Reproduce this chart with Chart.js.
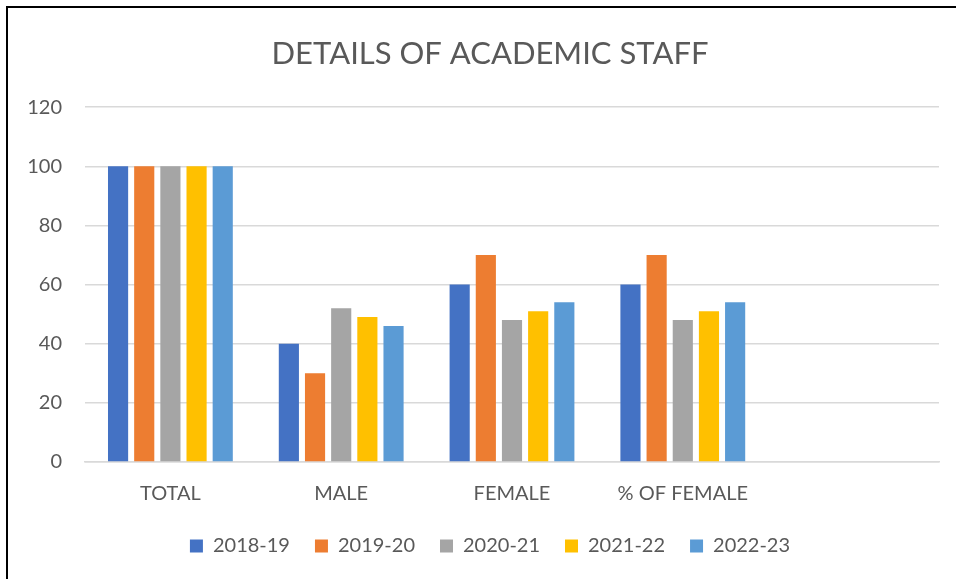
<!DOCTYPE html>
<html>
<head>
<meta charset="utf-8">
<script src="https://cdn.jsdelivr.net/npm/chart.js@4.4.0/dist/chart.umd.min.js"></script>
<style>
  html, body { margin: 0; padding: 0; background: #fff; overflow: hidden; }
  #frame { position: absolute; left: 6px; top: 6px; width: 1000px; height: 600px;
           border-top: 2px solid #000; border-left: 2px solid #000; }
  #wrap { position: absolute; left: 0; top: 0; width: 980px; height: 579px; }
</style>
</head>
<body>
<div id="frame"></div>
<div id="wrap"><canvas id="mycanvas" width="980" height="579"></canvas></div>
<script>
// chart data
var categories = ["TOTAL", "MALE", "FEMALE", "% OF FEMALE", ""];
var y2018_19 = [100, 40, 60, 60, null];
var y2019_20 = [100, 30, 70, 70, null];
var y2020_21 = [100, 52, 48, 48, null];
var y2021_22 = [100, 49, 51, 51, null];
var y2022_23 = [100, 46, 54, 54, null];
var yTicks = [0, 20, 40, 60, 80, 100, 120];

var textColor = "#595959";
var gridColor = "#d9d9d9";
var fontFamily = "Lato, 'Noto Sans', sans-serif";

function bar(label, color, data) {
    return {
        label: label,
        backgroundColor: color,
        borderColor: color,
        borderWidth: 0,
        categoryPercentage: 0.766,
        barPercentage: 0.77,
        data: data
    };
}

var chartdata = {
    labels: categories,
    datasets: [
        bar("2018-19", "#4472C4", y2018_19),
        bar("2019-20", "#ED7D31", y2019_20),
        bar("2020-21", "#A5A5A5", y2020_21),
        bar("2021-22", "#FFC000", y2021_22),
        bar("2022-23", "#5B9BD5", y2022_23)
    ]
};

var ctx = document.getElementById("mycanvas");

var GenericGraph = new Chart(ctx, {
    type: 'bar',
    data: chartdata,
    options: {
        responsive: false,
        animation: false,
        devicePixelRatio: 1,
        layout: { padding: { top: 0, right: 0, bottom: 13, left: 0 } },
        plugins: {
            title: {
                display: true,
                text: "DETAILS OF ACADEMIC STAFF",
                color: textColor,
                font: { family: fontFamily, size: 31, weight: 'normal' },
                padding: { top: 35, bottom: 35 }
            },
            legend: {
                position: 'bottom',
                labels: {
                    color: textColor,
                    font: { family: fontFamily, size: 20 },
                    boxWidth: 13,
                    boxHeight: 13,
                    padding: 25
                }
            },
            tooltip: { enabled: false }
        },
        scales: {
            x: {
                grid: { display: false },
                border: { display: true, color: gridColor, width: 1.5 },
                ticks: {
                    color: textColor,
                    font: { family: fontFamily, size: 20 },
                    padding: 12,
                    maxRotation: 0
                },
                // tighten the gap between the category labels and the legend
                afterFit: function (s) { s.height -= 7; }
            },
            y: {
                min: 0,
                max: 120,
                afterBuildTicks: function (s) {
                    s.ticks = yTicks.map(function (v) { return { value: v }; });
                },
                afterFit: function (s) { s.width = 85; },
                grid: { color: gridColor, lineWidth: 1.5, drawTicks: false, tickLength: 0 },
                border: { display: false },
                ticks: {
                    color: textColor,
                    font: { family: fontFamily, size: 20 },
                    padding: 23
                }
            },
            yRight: {
                position: 'right',
                display: true,
                grid: { display: false },
                border: { display: false },
                ticks: { display: false },
                afterFit: function (s) { s.width = 41; }
            }
        }
    }
});
</script>
</body>
</html>
